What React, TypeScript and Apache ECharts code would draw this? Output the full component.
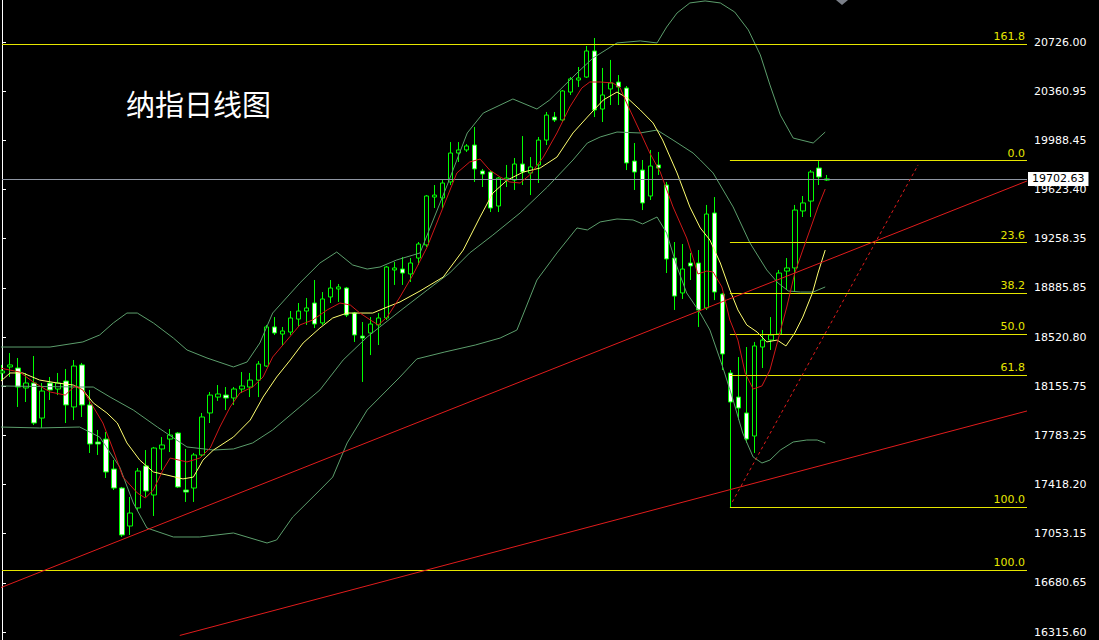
import React, { useEffect, useRef } from 'react';
import * as echarts from 'echarts';

// ---------- candles (daily OHLC) ----------
const opens = [
  18252, 18297, 18289, 18140, 18177, 17915, 18177, 18132, 18192, 17998,
  18312, 18013, 17736, 17758, 17534, 17392, 17108, 17243, 17557, 17340,
  17684, 17758, 17803, 17377, 17392, 17639, 17953, 18072, 18087, 18065,
  18132, 18147, 18199, 18304, 18596, 18543, 18558, 18655, 18715, 18775,
  18626, 18820, 18880, 18887, 18700, 18528, 18551, 18611, 18663, 19022,
  19029, 18992, 19111, 19209, 19567, 19560, 19680, 19896, 19919, 19956,
  19762, 19754, 19500, 19694, 19694, 19814, 19747, 19807, 19993, 20165,
  20143, 20352, 20442, 20464, 20659, 20225, 20375, 20427, 20382, 19836,
  19769, 19575, 19807, 19657, 19111, 18850, 19074, 19074, 18738, 19448,
  18842, 18252, 18072, 17953, 17781, 18446, 18498, 18543, 19014, 19037,
  19463, 19537, 19784, 19694,
];
const closes = [
  18267, 18312, 18147, 18177, 17878, 18117, 18125, 18177, 18013, 18304,
  18013, 17721, 17721, 17512, 17392, 17041, 17205, 17519, 17370, 17691,
  17714, 17788, 17400, 17362, 17639, 17923, 18087, 18095, 18065, 18132,
  18155, 18199, 18319, 18596, 18551, 18566, 18663, 18715, 18738, 18618,
  18805, 18887, 18895, 18685, 18536, 18513, 18618, 18663, 19044, 19037,
  18999, 19074, 19216, 19575, 19582, 19672, 19896, 19919, 19949, 19777,
  19739, 19485, 19709, 19709, 19814, 19754, 19792, 19993, 20180, 20143,
  20360, 20450, 20457, 20659, 20218, 20330, 20420, 20390, 19822, 19754,
  19523, 19799, 19784, 19104, 18827, 19029, 19052, 18723, 19440, 18857,
  18394, 18035, 17990, 17758, 18454, 18498, 18536, 18999, 19037, 19470,
  19523, 19754, 19717, 19702.63,
];
const lows = [
  18199, 18222, 17998, 18035, 17863, 17841, 18050, 18087, 17878, 17900,
  17923, 17654, 17639, 17467, 17377, 17026, 17041, 17220, 17325, 17183,
  17527, 17661, 17392, 17288, 17288, 17624, 17878, 18043, 17975, 18013,
  18102, 18072, 18072, 18297, 18536, 18461, 18536, 18596, 18611, 18588,
  18611, 18775, 18783, 18670, 18484, 18185, 18386, 18461, 18648, 18910,
  18910, 18932, 19059, 19194, 19485, 19485, 19657, 19829, 19904, 19680,
  19642, 19455, 19455, 19642, 19620, 19657, 19582, 19672, 19956, 20128,
  20128, 20330, 20390, 20457, 20165, 20128, 20255, 20255, 19769, 19620,
  19470, 19545, 19732, 18999, 18723, 18805, 18947, 18596, 18723, 18797,
  18274, 17250, 17900, 17729, 17654, 18289, 18424, 18536, 18872, 18857,
  19418, 19418, 19657, 19687,
];
const highs = [
  18312, 18401, 18364, 18252, 18379, 18177, 18222, 18252, 18282, 18349,
  18327, 18125, 17826, 17811, 17601, 17400, 17325, 17542, 17676, 17699,
  17773, 17833, 17811, 17684, 17654, 17953, 18110, 18162, 18147, 18147,
  18259, 18252, 18341, 18611, 18670, 18596, 18715, 18775, 18812, 18947,
  18857, 18947, 18917, 18895, 18708, 18633, 18670, 18700, 19052, 19082,
  19119, 19111, 19231, 19582, 19657, 19694, 19978, 19978, 19963, 20091,
  19777, 19762, 19717, 19807, 19859, 20023, 19866, 20016, 20203, 20203,
  20367, 20464, 20539, 20696, 20756, 20532, 20592, 20479, 20397, 19971,
  19844, 19919, 19904, 19680, 19231, 19216, 19149, 19171, 19508, 19567,
  18850, 18274, 18371, 18446, 18484, 18573, 18670, 19022, 19111, 19508,
  19575, 19769, 19836, 19732,
];

const lastPrice = 19702.63;
const slotCount = 129; // bar slots across the plot (last 25 are empty)

// ---------- indicator lines, read as [bar position, price] ----------
const maFast = [
  [-0.25, 18289], [2.2, 18259], [3.9, 18185], [6, 18110], [7.9, 18087], [9.1, 18155], [10.1, 18125],
  [11.4, 17998], [12.6, 17878], [13.9, 17676], [15.1, 17474], [16.9, 17355], [17.9, 17317], [18.9, 17377],
  [20.1, 17527], [21, 17616], [23.1, 17587], [24.7, 17616], [26, 17691], [27.2, 17848], [28.5, 17998],
  [29.7, 18102], [31.3, 18147], [32.6, 18222], [33.8, 18371], [35.6, 18498], [37.2, 18611], [38.8, 18648],
  [40.6, 18723], [42.2, 18775], [43.5, 18760], [44.7, 18700], [46, 18648], [47, 18611], [48.1, 18670],
  [49.7, 18820], [51.3, 18984], [53.1, 19194], [55.1, 19493], [56.8, 19747], [58.4, 19829], [59.7, 19851],
  [60.9, 19769], [62.2, 19717], [63.4, 19680], [64.7, 19672], [65.9, 19732], [67.6, 19866], [69.3, 20046],
  [70.9, 20240], [72.4, 20382], [73.4, 20427], [74.7, 20427], [76.3, 20420], [77.2, 20382], [78, 20270],
  [79.7, 20053], [80.9, 19896], [82.2, 19754], [83.8, 19493], [85.5, 19261], [86.3, 19111], [86.9, 18992],
  [88, 19014], [88.8, 19007], [89.9, 18895], [90.9, 18648], [91.9, 18498], [92.8, 18252], [93.8, 18132],
  [94.9, 18155], [95.9, 18274], [96.9, 18498], [98, 18745], [99, 18999], [100, 19171], [101.2, 19373],
  [101.9, 19493], [102.8, 19627],
];
const maSlow = [
  [-0.25, 18185], [1, 18252], [2.6, 18252], [4.7, 18199], [6.9, 18177], [8.9, 18162], [10.1, 18125],
  [11.4, 18028], [13.1, 17953], [14.4, 17878], [15.6, 17729], [17.2, 17601], [18.9, 17512], [20.6, 17489],
  [22.6, 17460], [23.9, 17474], [25.1, 17601], [26.4, 17676], [28.9, 17773], [31, 17900], [32.6, 18072],
  [34.3, 18222], [36, 18349], [37.6, 18476], [39.7, 18588], [41.3, 18663], [43.1, 18700], [46.3, 18700],
  [48.1, 18745], [49.7, 18783], [52.2, 18865], [55.1, 18969], [57.6, 19171], [59.7, 19418], [61.3, 19597],
  [63.1, 19694], [65.1, 19754], [67.2, 19784], [69.3, 19866], [71.3, 20046], [73.1, 20165], [75.1, 20293],
  [76.8, 20352], [78.1, 20307], [79.7, 20218], [81.3, 20121], [82.5, 19993], [84.3, 19747], [85.9, 19493],
  [87.2, 19336], [88.4, 19246], [89.7, 19074], [90.9, 18872], [91.9, 18723], [93, 18611], [94.3, 18558],
  [95.5, 18484], [96.8, 18498], [97.9, 18454], [99, 18551], [100, 18670], [101.2, 18850], [101.9, 18999],
  [102.8, 19171],
];
const bandUpper = [
  [-0.25, 18446], [6, 18446], [10.1, 18484], [12.2, 18536], [13.9, 18626], [15.6, 18700], [16.9, 18700],
  [18.9, 18626], [21.4, 18513], [23.1, 18424], [25.6, 18364], [28.9, 18297], [30.6, 18334], [32.2, 18476],
  [33.8, 18700], [37.2, 18925], [39.7, 19074], [41.8, 19156], [43.8, 19059], [45.6, 19029], [47.2, 19044],
  [49.3, 19097], [52.2, 19149], [55.6, 19657], [58.1, 20046], [60.1, 20195], [63.8, 20300], [66.8, 20225],
  [68.4, 20293], [71.8, 20494], [73.8, 20606], [76.8, 20719], [79.7, 20734], [81.8, 20719], [83, 20838],
  [84.3, 20943], [85.9, 21018], [87.8, 21033], [89.7, 21018], [91.5, 20950], [93.2, 20816], [94.7, 20629],
  [95.9, 20405], [97.2, 20180], [98.8, 20008], [101.3, 19971], [102.8, 20053],
];
const bandMiddle = [
  [-0.25, 18155], [9.7, 18147], [11.4, 18147], [13.5, 18072], [16.4, 17975], [19.4, 17848], [23.1, 17699],
  [26.4, 17676], [28.9, 17684], [31.3, 17729], [33.8, 17826], [37.2, 17998], [39.7, 18125], [42.6, 18349],
  [45.6, 18521], [49.7, 18715], [53.1, 18872], [55.9, 18999], [58.4, 19149], [61.3, 19283], [64.7, 19448],
  [68.1, 19642], [71.3, 19844], [73.1, 19971], [74.7, 20016], [76.8, 20053], [79.7, 20046], [81.8, 20068],
  [83.8, 19993], [86.3, 19896], [87.2, 19844], [88.8, 19747], [91.3, 19493], [93.4, 19224], [95.5, 19022],
  [96.9, 18925], [98.2, 18865], [99.7, 18857], [101.3, 18857], [102.8, 18895],
];
const bandLower = [
  [-0.25, 17848], [4.7, 17841], [9.7, 17848], [12.2, 17773], [14.7, 17549], [16.4, 17280], [18.1, 17093],
  [21.4, 17026], [24.7, 17026], [28.9, 17056], [33.1, 16981], [34.3, 17004], [36.3, 17175], [39.7, 17377],
  [41.3, 17474], [43.1, 17729], [45.6, 17975], [49.7, 18222], [51.8, 18357], [55.3, 18409], [59.1, 18461],
  [62.2, 18513], [64.3, 18573], [66.8, 18947], [69.3, 19149], [71.8, 19336], [73.1, 19321], [74.7, 19381],
  [76.8, 19403], [78.8, 19396], [80, 19366], [81.8, 19418], [83, 19298], [84.3, 19044], [85.5, 18850],
  [87.2, 18700], [88.4, 18573], [90, 18297], [91.3, 18050], [92.5, 17803], [93.8, 17624], [94.9, 17579],
  [95.9, 17601], [97.2, 17676], [98.8, 17736], [100.5, 17751], [101.8, 17751], [102.8, 17729],
];

// ---------- drawn objects ----------
const trendUpper = [[-0.25, 16645], [128, 19687]];
const trendLower = [[22.2, 16290], [128, 17968]];
const trendDashed = [[91.2, 17288], [114.4, 19807]];

const fibStartA = 90.9;
const fibLabelsA = ['0.0', '23.6', '38.2', '50.0', '61.8', '100.0'];
const fibPricesA = [19839, 19226, 18848, 18541, 18235, 17248];
const fibLabelsB = ['161.8', '100.0'];
const fibPricesB = [20711, 16779];

// right price scale labels, bottom to top
const yTickLabels = [
  '16315.60', '16680.65', '17053.15', '17418.20', '17783.25', '18155.75', '18520.80',
  '18885.85', '19258.35', '19623.40', '19988.45', '20360.95', '20726.00',
];

const titleText = '纳指日线图';

const GREEN = '#00ff00';
const BAND = '#5c9e6c';
const RED_MA = '#d01818';
const YELLOW_MA = '#ffff70';
const FIB = '#e6e600';
const TREND = '#e01c1c';
const AXIS_FONT = 'DejaVu Sans';

export default function App() {
  const ref = useRef<HTMLDivElement>(null);

  useEffect(() => {
    if (!ref.current) return;
    const chart = echarts.init(ref.current, undefined, { renderer: 'svg' });

    const categories = Array.from({ length: slotCount }, (_, i) => String(i));
    const candles = opens.map((o, i) => [o, closes[i], lows[i], highs[i]]);
    const lastX = slotCount - 1;

    const fibLines: any[] = [];
    fibLabelsA.forEach((name, k) => {
      fibLines.push([{ name, coord: [fibStartA, fibPricesA[k]] }, { coord: [lastX, fibPricesA[k]] }]);
    });
    fibLabelsB.forEach((name, k) => {
      fibLines.push([{ name, coord: [0, fibPricesB[k]] }, { coord: [lastX, fibPricesB[k]] }]);
    });

    const lineSeries = (data: number[][], color: string, z = 3, dashed = false) => ({
      type: 'line',
      xAxisIndex: 1,
      yAxisIndex: 0,
      data,
      showSymbol: false,
      symbol: 'none',
      smooth: false,
      silent: true,
      z,
      lineStyle: { color, width: 1, type: dashed ? [3, 3] : 'solid' },
      emphasis: { disabled: true },
    });

    const option: any = {
      animation: false,
      backgroundColor: '#000000',
      grid: [
        { left: 2, right: 72, top: 0, bottom: 0 },
        { left: 2, right: 72, top: 42, bottom: 8 },
      ],
      xAxis: [
        { type: 'category', data: categories, boundaryGap: false, show: false, gridIndex: 0 },
        { type: 'value', min: 0, max: lastX, show: false, gridIndex: 0 },
        { type: 'value', min: 0, max: 1, show: false, gridIndex: 1 },
      ],
      yAxis: [
        {
          type: 'value',
          gridIndex: 0,
          position: 'right',
          min: 16256,
          max: 21040,
          axisLine: { show: true, lineStyle: { color: '#ffffff', width: 1 } },
          axisTick: { show: false },
          axisLabel: { show: false },
          splitLine: { show: false },
        },
        {
          type: 'value',
          gridIndex: 1,
          position: 'right',
          min: 0,
          max: yTickLabels.length - 1,
          interval: 1,
          axisLine: { show: false },
          axisTick: { show: true, length: 4, lineStyle: { color: '#ffffff', width: 1 } },
          axisLabel: {
            color: '#ffffff',
            fontFamily: AXIS_FONT,
            fontSize: 11,
            margin: 7,
            formatter: (v: number) => yTickLabels[Math.round(v)] ?? '',
          },
          splitLine: { show: false },
        },
      ],
      graphic: [
        {
          type: 'text',
          x: 126,
          y: 103,
          silent: true,
          style: {
            text: titleText,
            fill: '#ffffff',
            fontSize: 29,
            fontFamily: 'Noto Sans CJK SC',
            verticalAlign: 'middle',
          },
        },
        {
          type: 'polygon',
          silent: true,
          shape: { points: [[836, 0], [848, 0], [842, 5]] },
          style: { fill: '#7a7f88' },
        },
      ],
      series: [
        {
          type: 'candlestick',
          xAxisIndex: 0,
          yAxisIndex: 0,
          data: candles,
          barWidth: 5,
          clip: false,
          silent: true,
          z: 2,
          itemStyle: {
            color: '#000000',
            color0: '#ffffff',
            borderColor: GREEN,
            borderColor0: GREEN,
            borderWidth: 1,
          },
          emphasis: { disabled: true },
          markLine: {
            silent: true,
            symbol: ['none', 'none'],
            animation: false,
            lineStyle: { color: '#8f96a3', width: 1, type: 'solid' },
            label: {
              position: 'end',
              formatter: lastPrice.toFixed(2),
              backgroundColor: '#ffffff',
              color: '#000000',
              fontFamily: AXIS_FONT,
              fontSize: 11,
              padding: [2, 4, 1, 4],
              distance: 1,
            },
            data: [{ yAxis: lastPrice }],
          },
        },
        lineSeries(bandUpper, BAND),
        lineSeries(bandMiddle, BAND),
        lineSeries(bandLower, BAND),
        {
          ...lineSeries(maSlow, YELLOW_MA, 4),
          markLine: {
            silent: true,
            symbol: ['none', 'none'],
            animation: false,
            lineStyle: { color: FIB, width: 1, type: 'solid' },
            label: {
              position: 'insideEndTop',
              formatter: '{b}',
              color: FIB,
              fontFamily: AXIS_FONT,
              fontSize: 11,
              distance: [2, 2],
            },
            data: fibLines,
          },
        },
        lineSeries(maFast, RED_MA, 5),
        lineSeries(trendUpper, TREND, 5),
        lineSeries(trendLower, TREND, 5),
        lineSeries(trendDashed, TREND, 5, true),
      ],
    };

    chart.setOption(option);
    return () => chart.dispose();
  }, []);

  return (
    <div
      ref={ref}
      style={{ position: 'fixed', left: 0, top: 0, width: 1099, height: 640, background: '#000' }}
    />
  );
}
